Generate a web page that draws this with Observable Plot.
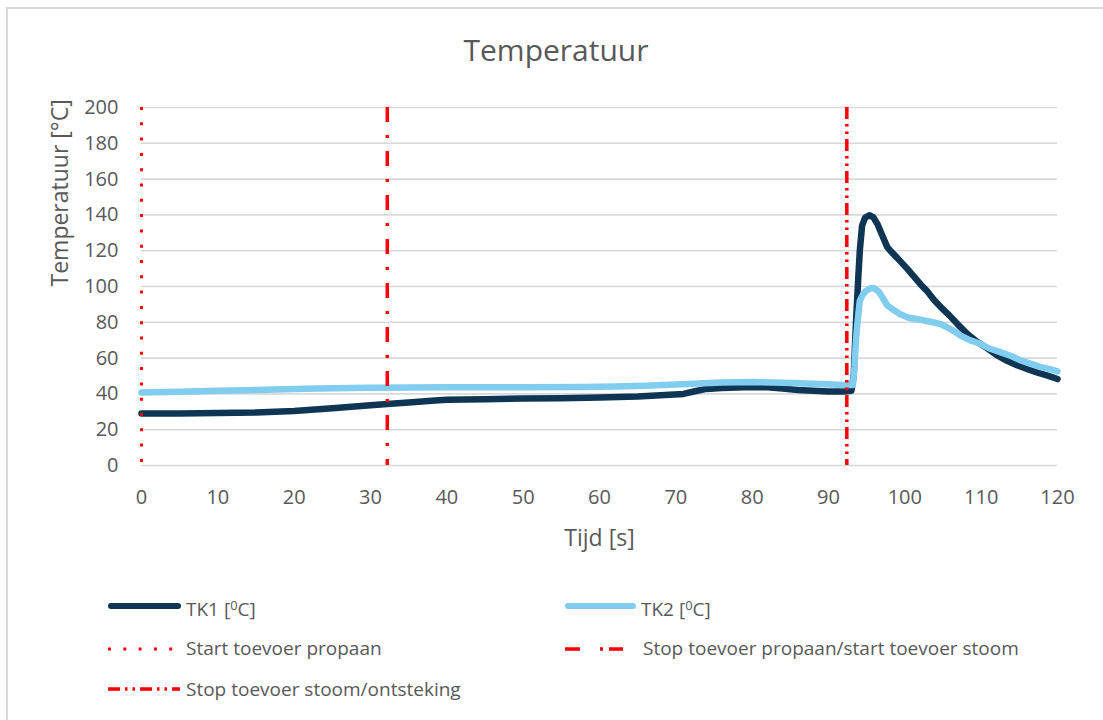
<!DOCTYPE html>
<html>
<head>
<meta charset="utf-8">
<script src="https://cdn.jsdelivr.net/npm/d3@7"></script>
<script src="https://cdn.jsdelivr.net/npm/@observablehq/plot@0.6"></script>
<style>
  html, body { margin: 0; padding: 0; background: #fff; overflow: hidden; width: 1103px; height: 720px; }
  body { font-family: "Open Sans", sans-serif; color: #595959; position: relative; }
  #frame { position: absolute; left: 6px; top: 7px; width: 1200px; height: 800px; border-left: 2px solid #d9d9d9; border-top: 2px solid #d9d9d9; box-sizing: border-box; }
  #title { position: absolute; left: 0; width: 1112px; top: 35px; text-align: center; font-size: 30px; line-height: 30px; }
  #chart { position: absolute; left: 0; top: 90px; }
  .lg { position: absolute; font-size: 19px; line-height: 19px; white-space: nowrap; }
  .sw { position: absolute; }
  .sup { font-size: 0.68em; vertical-align: 0.5em; }
</style>
</head>
<body>
<div id="frame"></div>
<div id="title">Temperatuur</div>
<div id="chart"></div>
<div id="legend"></div>
<script>
// ---- data ----
const tk1Time = [0, 5, 10, 15, 20, 25, 30, 32.2, 35, 38, 40, 45, 50, 55, 60, 65, 68, 71, 72.5, 74, 76, 78, 80, 82, 84, 86, 88, 90, 92, 93, 93.3, 93.6, 93.9, 94.1, 94.4, 94.8, 95.4, 95.9, 96.4, 97.2, 97.7, 98.2, 99, 100.3, 101.2, 102.1, 103, 103.8, 104.7, 105.8, 106.9, 108.2, 109.5, 110.8, 112.1, 113.4, 114.7, 116, 117.3, 118.7, 120];
const tk1Temp = [29, 29.1, 29.3, 29.6, 30.5, 32, 33.6, 34.4, 35.2, 36.2, 36.7, 37, 37.4, 37.6, 38, 38.6, 39.3, 40, 41.5, 42.8, 43.3, 43.6, 43.8, 43.7, 43, 42.2, 41.8, 41.3, 41.3, 41.8, 50, 80, 105, 120, 134, 138.5, 139.8, 138.5, 135, 127, 122, 119.5, 116, 110, 105.5, 101, 97, 92.6, 88.5, 84, 79, 73.5, 69, 65.5, 61.5, 58.5, 56, 54, 52, 50.2, 48.3];

const tk2Time = [0, 5, 10, 15, 20, 25, 30, 35, 40, 50, 58, 62, 66, 70, 73, 76, 80, 84, 88, 92, 93.2, 93.4, 93.6, 93.8, 94.1, 94.5, 94.9, 95.5, 96, 96.6, 97.2, 97.7, 98.5, 99.4, 100.5, 101.5, 103.4, 104.7, 105.6, 106.5, 107.3, 108.5, 109.9, 111, 112.5, 114, 115.2, 116.5, 117.8, 119, 120];
const tk2Temp = [40.8, 41.2, 41.7, 42.2, 42.7, 43.1, 43.4, 43.6, 43.7, 43.7, 43.8, 44.2, 44.6, 45.2, 45.8, 46.4, 46.6, 46.2, 45.7, 45, 45, 55, 70, 80, 92, 95.5, 97.5, 99, 99, 97, 93, 89.5, 87, 84.5, 82.5, 81.8, 80.3, 79, 77, 75, 72.6, 70, 68, 65.5, 63.3, 61, 58.7, 56.8, 55, 53.8, 52.6];

const startPropaan = [0];        // Start toevoer propaan
const stopPropaan = [32.2];      // Stop toevoer propaan/start toevoer stoom
const stopStoom = [92.4];        // Stop toevoer stoom/ontsteking

const xTicks = [0, 10, 20, 30, 40, 50, 60, 70, 80, 90, 100, 110, 120];
const yTicks = [0, 20, 40, 60, 80, 100, 120, 140, 160, 180, 200];

const seriesNames = ["TK1", "TK2"];
const eventNames = ["Start toevoer propaan", "Stop toevoer propaan/start toevoer stoom", "Stop toevoer stoom/ontsteking"];
const xTitle = "Tijd [s]";
const yTitle = "Temperatuur [°C]";

// ---- build tables ----
const tk1 = tk1Time.map((t, i) => ({t, v: tk1Temp[i]}));
const tk2 = tk2Time.map((t, i) => ({t, v: tk2Temp[i]}));

const C1 = "#0e3553", C2 = "#80cdf0", RED = "#ff0000";
const DOT = "3 12.3", DASHDOT = "15 13 3 13", DASHDOTDOT = "12 5 2.5 5 2.5 5";

const chart = Plot.plot({
  width: 1103,
  height: 470,
  marginTop: 17,
  marginBottom: 95,
  marginLeft: 141,
  marginRight: 46,
  x: {domain: [0, 120], label: null},
  y: {domain: [0, 200], label: null},
  style: {fontFamily: "'Open Sans', sans-serif", color: "#595959", background: "transparent", overflow: "visible"},
  marks: [
    Plot.gridY(yTicks, {stroke: "#d9d9d9", strokeOpacity: 1, strokeWidth: 1.6}),
    Plot.axisY({ticks: yTicks, tickSize: 0, tickPadding: 23, fontSize: 20, label: null}),
    Plot.axisX({ticks: xTicks, tickSize: 0, tickPadding: 24, fontSize: 20, label: null}),
    Plot.lineY(tk1, {x: "t", y: "v", stroke: C1, strokeWidth: 6.5, strokeLinejoin: "round", strokeLinecap: "round"}),
    Plot.lineY(tk2, {x: "t", y: "v", stroke: C2, strokeWidth: 6.5, strokeLinejoin: "round", strokeLinecap: "round"}),
    Plot.ruleX(startPropaan, {x: d => d, stroke: RED, strokeWidth: 3, strokeDasharray: DOT}),
    Plot.ruleX(stopPropaan, {x: d => d, stroke: RED, strokeWidth: 3.5, strokeDasharray: DASHDOT}),
    Plot.ruleX(stopStoom, {x: d => d, stroke: RED, strokeWidth: 3.5, strokeDasharray: DASHDOTDOT}),
    Plot.text([xTitle], {text: d => d, frameAnchor: "bottom", dy: 80, fontSize: 23, fill: "#595959"}),
    Plot.text([yTitle], {text: d => d, frameAnchor: "left", dx: -81, rotate: -90, fontSize: 23, fill: "#595959"})
  ]
});
document.getElementById("chart").appendChild(chart);

// ---- legend ----
const legend = document.getElementById("legend");
function swatch(x, y, w, color, width, dash, cap) {
  const ns = "http://www.w3.org/2000/svg";
  const s = document.createElementNS(ns, "svg");
  s.setAttribute("class", "sw");
  s.setAttribute("width", w + 10);
  s.setAttribute("height", 12);
  s.style.left = (x - 5) + "px";
  s.style.top = (y - 6) + "px";
  const l = document.createElementNS(ns, "line");
  l.setAttribute("x1", 5); l.setAttribute("x2", 5 + w);
  l.setAttribute("y1", 6); l.setAttribute("y2", 6);
  l.setAttribute("stroke", color);
  l.setAttribute("stroke-width", width);
  if (dash) l.setAttribute("stroke-dasharray", dash);
  l.setAttribute("stroke-linecap", cap || "butt");
  s.appendChild(l);
  legend.appendChild(s);
}
function label(x, top, html) {
  const d = document.createElement("div");
  d.className = "lg";
  d.style.left = x + "px";
  d.style.top = top + "px";
  d.innerHTML = html;
  legend.appendChild(d);
}
swatch(111, 606, 67, C1, 6, null, "round");
label(186, 596, seriesNames[0] + ' [<span class="sup">0</span>C]');
swatch(568, 606, 65, C2, 6, null, "round");
label(641, 596, seriesNames[1] + ' [<span class="sup">0</span>C]');
swatch(108, 649, 68, RED, 3, DOT);
label(186, 639, eventNames[0]);
swatch(565, 649, 58, RED, 3.5, "15 20 3 6");
label(643, 639, eventNames[1]);
swatch(108, 689, 72, RED, 3.5, DASHDOTDOT);
label(186, 680, eventNames[2]);
</script>
</body>
</html>
